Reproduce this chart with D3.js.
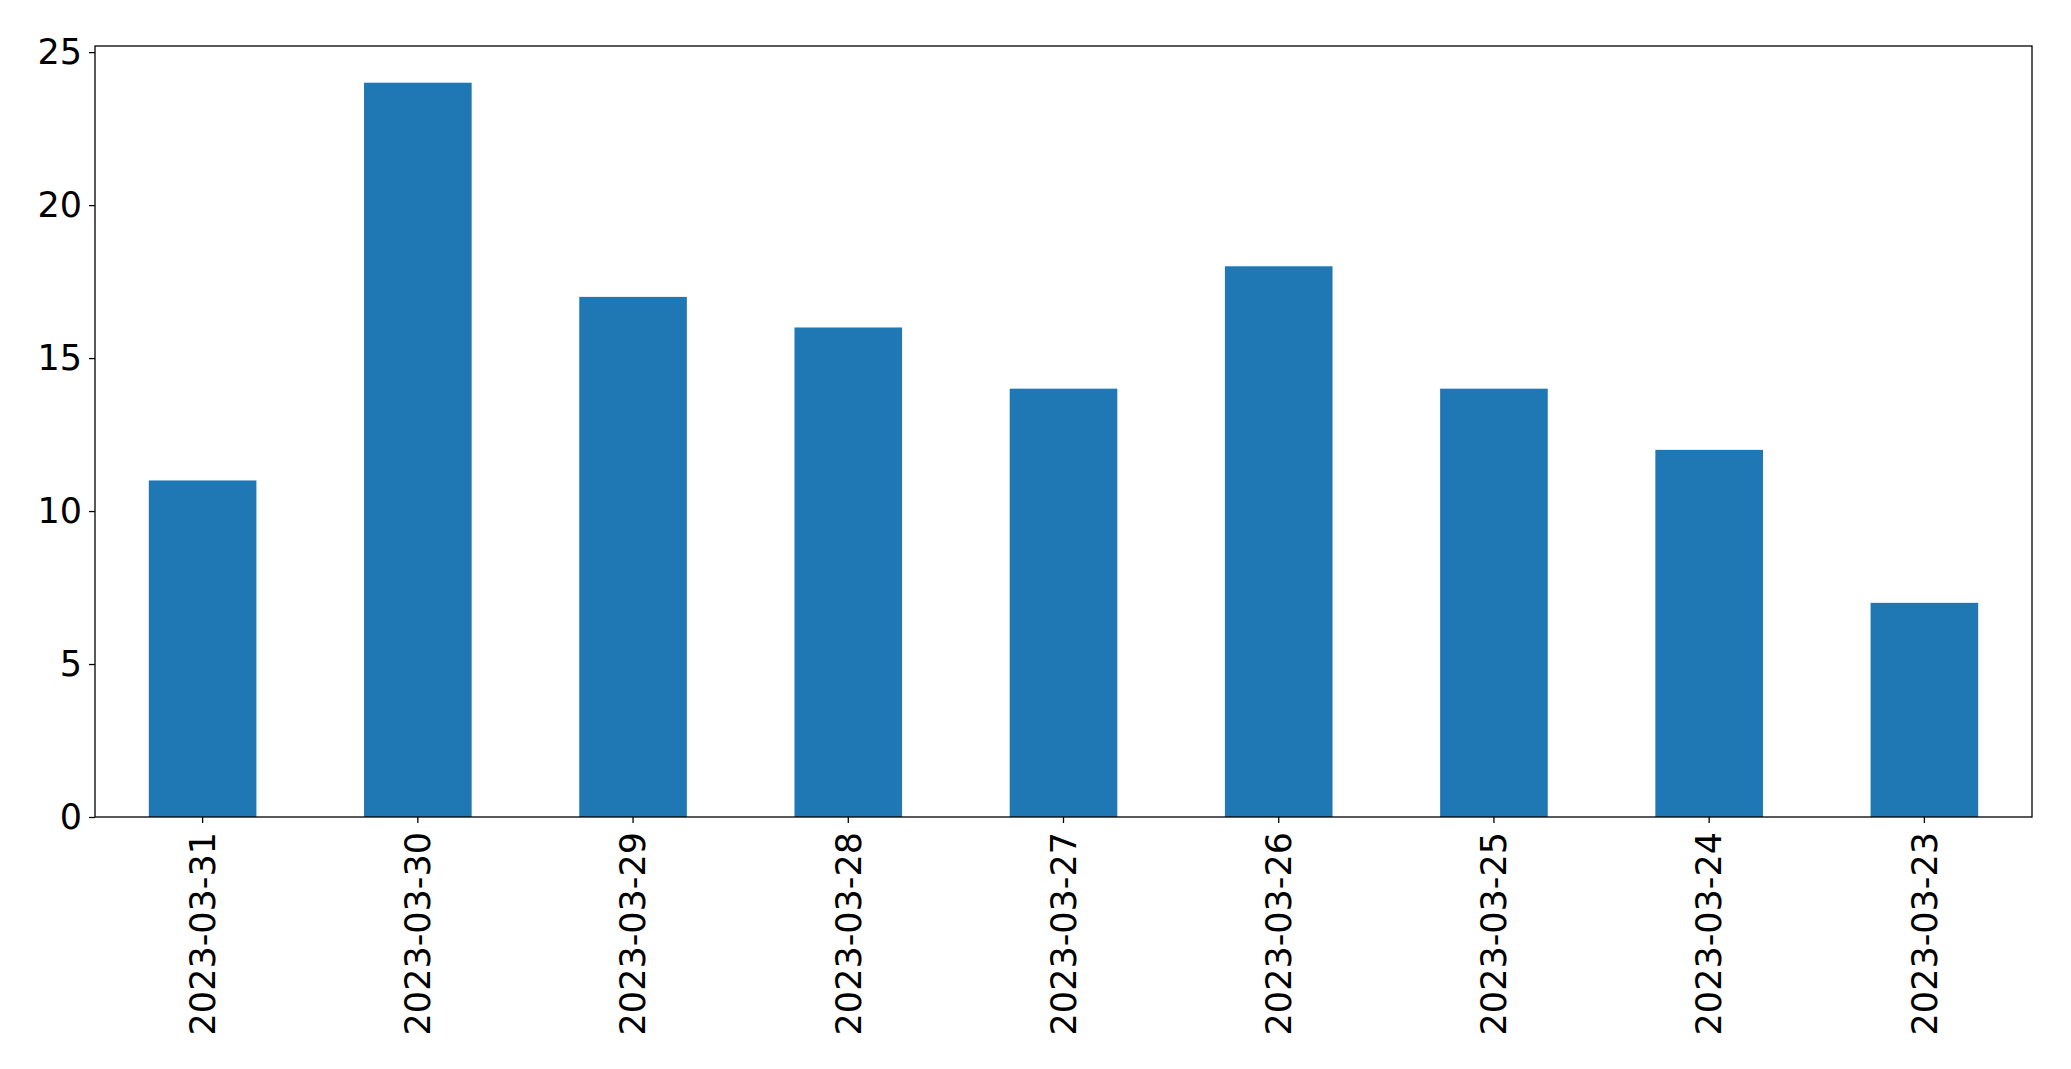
<!DOCTYPE html>
<html>
<head>
<meta charset="utf-8">
<script src="https://cdn.jsdelivr.net/npm/d3@7"></script>
<style>
  html, body { margin: 0; padding: 0; background: #fff; }
  svg { display: block; }
  text { font-family: "DejaVu Sans", sans-serif; }
</style>
</head>
<body>
<svg id="chart" width="2071" height="1069"></svg>
<script>
const categories = ["2023-03-31","2023-03-30","2023-03-29","2023-03-28","2023-03-27","2023-03-26","2023-03-25","2023-03-24","2023-03-23"];
const values = [11, 24, 17, 16, 14, 18, 14, 12, 7];
const yTicks = [0, 5, 10, 15, 20, 25];

const svg = d3.select("#chart");
const margin = {left: 95, right: 2071 - 2032, top: 46, bottom: 1069 - 817};
const W = 2071 - margin.left - margin.right;
const H = 1069 - margin.top - margin.bottom;

const g = svg.append("g").attr("transform", `translate(${margin.left},${margin.top})`);

const x = d3.scaleBand().domain(categories).range([0, W]).paddingInner(0.5).paddingOuter(0.25);
const y = d3.scaleLinear().domain([0, d3.max(values) * 1.05]).range([H, 0]);

g.selectAll("rect.bar")
  .data(categories.map((c, i) => ({c, v: values[i]})))
  .join("rect")
  .attr("class", "bar")
  .attr("x", d => x(d.c))
  .attr("width", x.bandwidth())
  .attr("y", d => y(d.v))
  .attr("height", d => y(0) - y(d.v))
  .attr("fill", "#1f77b4");

const fontSize = 35;

const yAxis = g.append("g")
  .call(d3.axisLeft(y).tickValues(yTicks).tickFormat(d3.format("d")).tickSize(6).tickPadding(7));
yAxis.select(".domain").remove();
yAxis.selectAll("line").attr("stroke", "#000").attr("stroke-width", 1.3);
yAxis.selectAll("text").attr("font-size", fontSize).attr("fill", "#000");

const xAxis = g.append("g").attr("transform", `translate(0,${H})`)
  .call(d3.axisBottom(x).tickSize(6).tickPadding(8));
xAxis.select(".domain").remove();
xAxis.selectAll("line").attr("stroke", "#000").attr("stroke-width", 1.3);
xAxis.selectAll("text")
  .attr("font-size", fontSize)
  .attr("fill", "#000")
  .attr("transform", "rotate(-90)")
  .attr("x", -15)
  .attr("y", 0)
  .attr("dy", "0.35em")
  .attr("text-anchor", "end");

g.append("rect")
  .attr("x", 0).attr("y", 0).attr("width", W).attr("height", H)
  .attr("fill", "none").attr("stroke", "#000").attr("stroke-width", 1.3);
</script>
</body>
</html>
